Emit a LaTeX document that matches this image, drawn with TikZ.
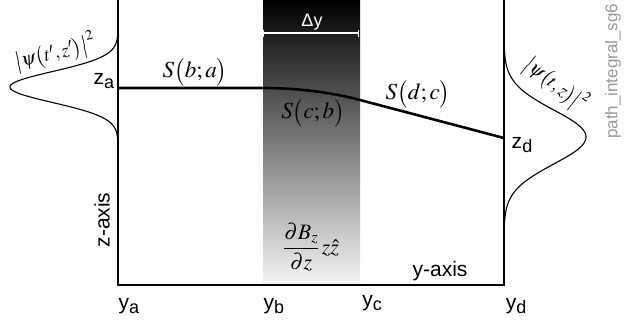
\documentclass[tikz,border=0pt]{standalone}
\usepackage{mathptmx}
\usepackage{fontspec}
\setsansfont{Liberation Sans}
\usetikzlibrary{arrows.meta}

\tikzset{
  axisline/.style={line width=2.8pt, line join=miter},
  pathline/.style={line width=2.6pt},
  wave/.style={line width=1.1pt},
  sanslab/.style={font=\sffamily\fontsize{21}{24}\selectfont, inner sep=0pt},
  mathlab/.style={font=\fontsize{23}{28}\selectfont, inner sep=0pt},
  wavelab/.style={font=\fontsize{19}{22}\selectfont, inner sep=0pt},
}
\newcommand{\subl}[2]{#1\raisebox{-.35ex}{\fontsize{18}{18}\selectfont #2}}

\begin{document}
\begin{tikzpicture}[x=1pt,y=-1pt]
  \useasboundingbox (0,0) rectangle (624,325);
  \shade[top color=black, bottom color=black!4] (263,0) rectangle (360,284);

  \coordinate (top-a) at (118,0);
  \coordinate (origin) at (118,285);
  \coordinate (end-d) at (504,285);
  \coordinate (top-d) at (504,0);
  \draw[axisline] (top-a) -- (origin) -- (end-d) -- (top-d);

  \coordinate (a) at (118,88);
  \coordinate (b) at (263,88);
  \coordinate (c) at (360,100);
  \coordinate (d) at (504,138);
  \draw[pathline] (a) -- (b) .. controls (300,88) and (334,93) .. (c) -- (d);

  \coordinate (dy-l) at (263,33);
  \coordinate (dy-r) at (359,33);
  \draw[white, line width=1.2pt, {Bar[width=7pt]}-{Bar[width=7pt]}] (dy-l) -- (dy-r);
  \node[inner sep=0pt, white, font=\sffamily\fontsize{18}{20}\selectfont] (dy) at (312,22) {Δy};

  \draw[wave] plot[domain=35:150, samples=120, smooth] ({118-108*exp(((\x-87)^2)/(-480))}, {\x});
  \draw[wave] plot[domain=30:245, samples=150, smooth] ({504+82*exp(((\x-137)^2)/(-1460))}, {\x});

  \node[wavelab, rotate=13] (psi-a) at (55,52) {$\bigl|\psi\bigl(t',z'\bigr)\bigr|^2$};
  \node[wavelab, rotate=-38] (psi-d) at (556,84) {$\bigl|\psi\bigl(t,z\bigr)\bigr|^2$};
  \node[mathlab] (s-ba) at (195,72) {$S\bigl(b;a\bigr)$};
  \node[mathlab] (s-cb) at (313,113) {$S\bigl(c;b\bigr)$};
  \node[mathlab] (s-dc) at (418,94) {$S\bigl(d;c\bigr)$};
  \node[inner sep=0pt, font=\fontsize{22}{26}\selectfont] (force) at (311,247) {$\displaystyle\frac{\partial B_z}{\partial z}\,z\hat{z}$};

  \node[sanslab] (za) at (104,81) {\subl{z}{a}};
  \node[sanslab] (zd) at (522,145) {\subl{z}{d}};
  \node[sanslab] (ya) at (129,306) {\subl{y}{a}};
  \node[sanslab] (yb) at (274,306) {\subl{y}{b}};
  \node[sanslab] (yc) at (372,303) {\subl{y}{c}};
  \node[sanslab] (yd) at (516,306) {\subl{y}{d}};
  \node[sanslab, rotate=90] (zaxis) at (102,220) {z-axis};
  \node[sanslab] (yaxis) at (440,271) {y-axis};
  \node[inner sep=0pt, black!40, font=\sffamily\fontsize{17}{20}\selectfont, rotate=90, anchor=west] (fname) at (613,139) {path\_integral\_sg6};
\end{tikzpicture}
\end{document}
